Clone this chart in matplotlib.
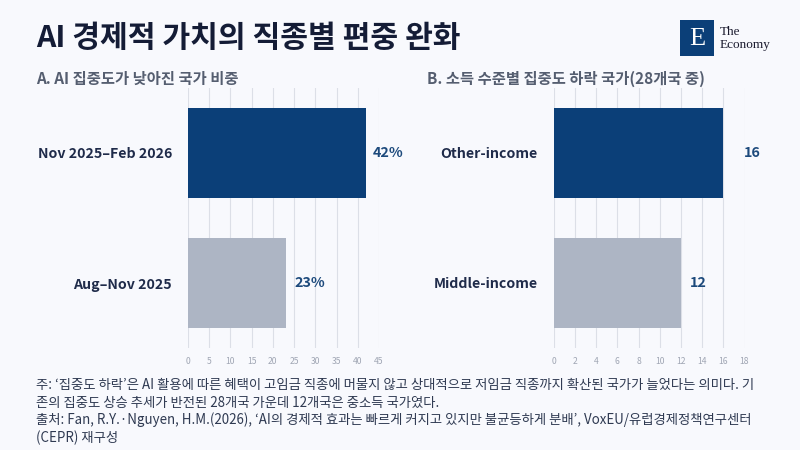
import matplotlib
matplotlib.use("Agg")
import matplotlib.pyplot as plt
from matplotlib.patches import Rectangle

plt.rcParams['font.family'] = ['Noto Sans CJK KR', 'DejaVu Sans']

# Data
left_categories = ["Nov 2025–Feb 2026", "Aug–Nov 2025"]
left_values = [42, 23]
left_labels = ["42%", "23%"]
left_ticks = [0, 5, 10, 15, 20, 25, 30, 35, 40, 45]

right_categories = ["Other-income", "Middle-income"]
right_values = [16, 12]
right_labels = ["16", "12"]
right_ticks = [0, 2, 4, 6, 8, 10, 12, 14, 16, 18]

title = "AI 경제적 가치의 직종별 편중 완화"
sub_a = "A. AI 집중도가 낮아진 국가 비중"
sub_b = "B. 소득 수준별 집중도 하락 국가(28개국 중)"
note_lines = [
    "주: ‘집중도 하락’은 AI 활용에 따른 혜택이 고임금 직종에 머물지 않고 상대적으로 저임금 직종까지 확산된 국가가 늘었다는 의미다. 기",
    "존의 집중도 상승 추세가 반전된 28개국 가운데 12개국은 중소득 국가였다.",
    "출처: Fan, R.Y.·Nguyen, H.M.(2026), ‘AI의 경제적 효과는 빠르게 커지고 있지만 불균등하게 분배’, VoxEU/유럽경제정책연구센터",
    "(CEPR) 재구성",
]

BG = "#f8f9fd"
NAVY = "#0b3f78"
GREY = "#adb5c4"
LABEL = "#1f2b4a"
VAL = "#1d4a7c"

W, H = 800, 450
fig = plt.figure(figsize=(8, 4.5), dpi=100, facecolor=BG)
renderer = fig.canvas.get_renderer()


def fx(px):
    return px / W


def fy(py):
    return 1 - py / H


def fit(text_obj, target_px):
    """Scale a text's font size so its rendered width matches target_px."""
    for _ in range(3):
        w = text_obj.get_window_extent(renderer).width
        text_obj.set_fontsize(text_obj.get_fontsize() * target_px / w)
    return text_obj.get_fontsize()


def draw_panel(rect, cats, vals, labels, ticks, offsets_px):
    ax = fig.add_axes(rect, facecolor=BG)
    ypos = list(range(len(cats)))
    colors = [NAVY, GREY]
    ax.barh(ypos, vals, height=0.69, color=colors, zorder=3)
    ax.set_ylim(len(cats) - 0.5, -0.5)
    ax.set_xlim(ticks[0], ticks[-1])
    ax.set_xticks(ticks)
    ax.set_xticklabels([str(t) for t in ticks], fontsize=6.2, color="#a0a6b4")
    ax.tick_params(axis='x', length=0, pad=6.5)
    ax.set_yticks(ypos)
    ax.set_yticklabels(cats, fontsize=10, fontweight='bold', color=LABEL)
    ax.tick_params(axis='y', length=0, pad=11.5)
    ax.grid(axis='x', color="#dcdfe7", linewidth=0.8, zorder=0)
    for s in ax.spines.values():
        s.set_visible(False)
    texts = []
    for y, v, lab, off in zip(ypos, vals, labels, offsets_px):
        t = ax.annotate(lab, xy=(v, y), xytext=(off * 0.72, 0), textcoords='offset points',
                        va='center', ha='left', fontsize=10, fontweight='bold',
                        color=VAL, zorder=4)
        texts.append(t)
    return ax, texts


bottom = fy(348)
height = (348 - 88) / H
axL, valsL = draw_panel([fx(188), bottom, 191 / W, height], left_categories, left_values,
                        left_labels, left_ticks, [6, 8.6])
axR, valsR = draw_panel([fx(553.7), bottom, 190.8 / W, height], right_categories,
                        right_values, right_labels, right_ticks, [21, 8.6])

# fit category label font size to reference width
fig.canvas.draw()
lab0 = axL.get_yticklabels()[0]
w0 = lab0.get_window_extent(renderer).width
cat_fs = 10 * 134.7 / w0
for ax in (axL, axR):
    for t in ax.get_yticklabels():
        t.set_fontsize(cat_fs)
w1 = valsL[0].get_window_extent(renderer).width
val_fs = 10 * 30.7 / w1
for t in valsL + valsR:
    t.set_fontsize(val_fs)

# Titles
t_title = fig.text(fx(35.7), fy(38), title, fontsize=21, fontweight='bold', color="#141c36",
                   va='center', ha='left')
fit(t_title, 426)
t_a = fig.text(fx(35.7), fy(79), sub_a, fontsize=10.5, fontweight='bold', color="#555e70",
               va='center', ha='left')
fs_a = fit(t_a, 201.6)
t_b = fig.text(fx(427), fy(79), sub_b, fontsize=fs_a, fontweight='bold', color="#555e70",
               va='center', ha='left')

# Logo
fig.patches.append(Rectangle((fx(680), fy(56)), 34 / W, 36 / H, transform=fig.transFigure,
                             facecolor=NAVY, edgecolor='none'))
fig.text(fx(697), fy(39), "E", fontsize=19, color="white", family="Liberation Serif",
         ha='center', va='center')
fig.text(fx(720), fy(32), "The", fontsize=9.5, color="#1a1a2e", family="Liberation Serif",
         ha='left', va='center')
fig.text(fx(720), fy(45), "Economy", fontsize=9.5, color="#1a1a2e", family="Liberation Serif",
         ha='left', va='center')

# Notes
note_y = [385, 402.5, 420, 437.5]
note_texts = []
for line, yy in zip(note_lines, note_y):
    note_texts.append(fig.text(fx(35.7), fy(yy), line, fontsize=8.5, fontweight='medium',
                               color="#2f3a52", va='center', ha='left'))
nfs = fit(note_texts[0], 716)
for t in note_texts[1:]:
    t.set_fontsize(nfs)

fig.savefig("out.png", dpi=100, facecolor=BG)
